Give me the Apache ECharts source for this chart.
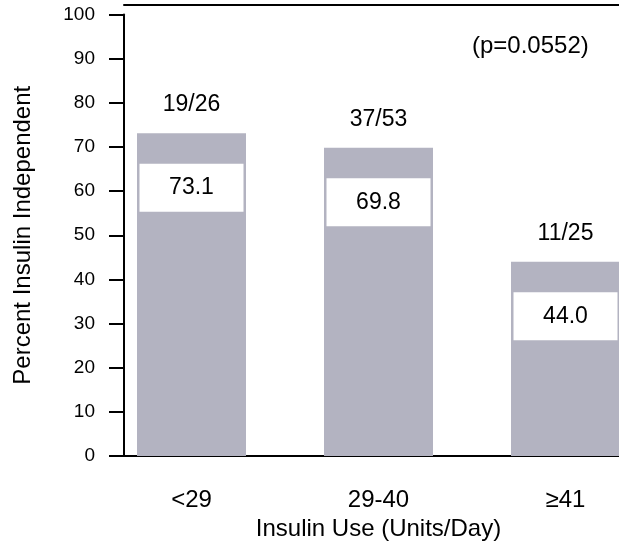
<!DOCTYPE html>
<html>
<head>
<meta charset="utf-8">
<script src="https://cdn.jsdelivr.net/npm/echarts@6/dist/echarts.min.js"></script>
<style>
html,body{margin:0;padding:0;background:#fff;}
#chart{width:619px;height:550px;}
</style>
</head>
<body>
<div id="chart"></div>
<script>
// ---- data ----
const categories = ['<29', '29-40', '\u226541'];
const percentIndependent = [73.1, 69.8, 44.0];
const fractions = ['19/26', '37/53', '11/25'];
const yTicks = [0, 10, 20, 30, 40, 50, 60, 70, 80, 90, 100];
const pValueText = '(p=0.0552)';
const xTitle = 'Insulin Use (Units/Day)';
const yTitle = 'Percent Insulin Independent';

const FONT = 'Liberation Sans, Arial, sans-serif';
const chart = echarts.init(document.getElementById('chart'), null, {renderer: 'canvas'});

const option = {
  animation: false,
  backgroundColor: '#ffffff',
  textStyle: {fontFamily: FONT, color: '#000'},
  title: {
    text: pValueText,
    left: 472,
    top: 34,
    padding: 0,
    textStyle: {fontFamily: FONT, fontSize: 24, fontWeight: 'normal', color: '#000'}
  },
  grid: [
    {left: 98, width: 561, top: 14.5, bottom: 94, containLabel: false, outerBoundsMode: 'none'},
    {left: 124, right: 0, top: 5, bottom: 94, containLabel: false, outerBoundsMode: 'none'}
  ],
  xAxis: [
    {
      type: 'category', gridIndex: 0, data: categories,
      axisLine: {show: false}, axisTick: {show: false},
      axisLabel: {fontFamily: FONT, fontSize: 24, color: '#000', margin: 32},
      name: xTitle, nameLocation: 'middle', nameGap: 61,
      nameTextStyle: {fontFamily: FONT, fontSize: 24, color: '#000'}
    },
    {
      type: 'value', gridIndex: 1, position: 'bottom', min: 0, max: 1,
      axisLine: {show: true, lineStyle: {color: '#000', width: 2}},
      axisTick: {show: false}, axisLabel: {show: false}, splitLine: {show: false}
    },
    {
      type: 'value', gridIndex: 1, position: 'top', min: 0, max: 1,
      axisLine: {show: true, lineStyle: {color: '#000', width: 2}},
      axisTick: {show: false}, axisLabel: {show: false}, splitLine: {show: false}
    }
  ],
  yAxis: [
    {
      type: 'value', gridIndex: 0, min: yTicks[0], max: yTicks[yTicks.length - 1], interval: 10,
      offset: -26,
      axisLine: {show: true, lineStyle: {color: '#000', width: 2}},
      axisTick: {show: true, length: 15, lineStyle: {color: '#000', width: 2}},
      axisLabel: {fontFamily: FONT, fontSize: 19, color: '#000', margin: 29},
      splitLine: {show: false},
      name: yTitle, nameLocation: 'middle', nameGap: 89, nameRotate: 90,
      nameTextStyle: {fontFamily: FONT, fontSize: 24, color: '#000'}
    },
    {
      type: 'value', gridIndex: 1, min: 0, max: 1, show: false
    }
  ],
  series: [
    {
      type: 'bar', xAxisIndex: 0, yAxisIndex: 0,
      data: percentIndependent,
      barWidth: 109,
      barGap: '-100%',
      itemStyle: {color: '#b3b3c1'},
      label: {
        show: true,
        position: 'insideTop',
        distance: 30.5,
        formatter: p => p.value.toFixed(1),
        backgroundColor: '#ffffff',
        width: 104, height: 48, lineHeight: 48,
        align: 'center',
        fontFamily: FONT, fontSize: 23, color: '#000'
      }
    },
    {
      type: 'bar', xAxisIndex: 0, yAxisIndex: 0,
      data: percentIndependent,
      barWidth: 109,
      barGap: '-100%',
      itemStyle: {color: 'rgba(0,0,0,0)'},
      label: {
        show: true,
        position: 'top',
        distance: 17,
        formatter: p => fractions[p.dataIndex],
        fontFamily: FONT, fontSize: 23, color: '#000'
      }
    }
  ]
};
chart.setOption(option);
</script>
</body>
</html>
